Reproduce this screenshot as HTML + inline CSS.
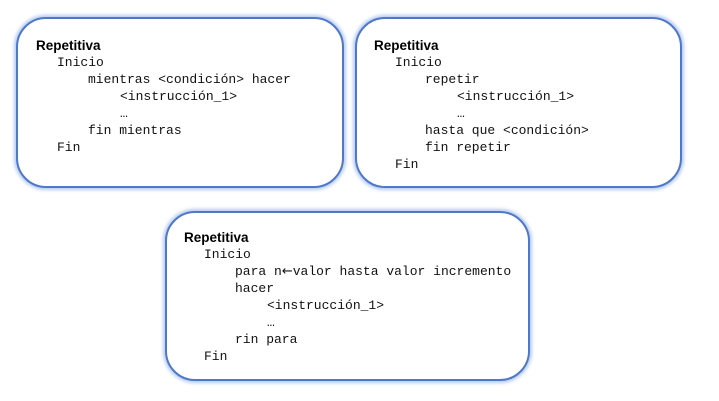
<!DOCTYPE html>
<html><head><meta charset="utf-8">
<style>
html,body{margin:0;padding:0;background:#fff;width:719px;height:401px;overflow:hidden;position:relative}
.box{position:absolute;box-sizing:border-box;border:2px solid #4f78c8;border-radius:30px;background:#fff;
box-shadow:0 0 3px 2px rgba(120,160,230,0.55)}
.t{position:absolute;font-family:"Liberation Mono",monospace;font-size:13px;line-height:17px;color:#111;white-space:pre}
.h{position:absolute;font-family:"Liberation Sans",sans-serif;font-weight:bold;font-size:13.5px;line-height:17px;color:#000}
.ar{font-family:"DejaVu Sans",sans-serif;font-size:13px}
</style></head><body>
<div class="box" style="left:16px;top:17px;width:328px;height:171px"></div>
<div class="box" style="left:355px;top:17px;width:327px;height:171px"></div>
<div class="box" style="left:165px;top:211px;width:365px;height:170px"></div>

<div class="h" style="left:36px;top:37px">Repetitiva</div>
<div class="t" style="left:57px;top:54px">Inicio</div>
<div class="t" style="left:88px;top:71px">mientras &lt;condición&gt; hacer</div>
<div class="t" style="left:120px;top:88px">&lt;instrucción_1&gt;</div>
<div class="t" style="left:120px;top:105px">…</div>
<div class="t" style="left:88px;top:122px">fin mientras</div>
<div class="t" style="left:57px;top:139px">Fin</div>

<div class="h" style="left:374px;top:37px">Repetitiva</div>
<div class="t" style="left:395px;top:54px">Inicio</div>
<div class="t" style="left:425px;top:71px">repetir</div>
<div class="t" style="left:457px;top:88px">&lt;instrucción_1&gt;</div>
<div class="t" style="left:457px;top:105px">…</div>
<div class="t" style="left:425px;top:122px">hasta que &lt;condición&gt;</div>
<div class="t" style="left:425px;top:139px">fin repetir</div>
<div class="t" style="left:395px;top:156px">Fin</div>

<div class="h" style="left:184px;top:229px">Repetitiva</div>
<div class="t" style="left:204px;top:246px">Inicio</div>
<div class="t" style="left:235px;top:263px">para n<span class="ar">←</span>valor hasta valor incremento</div>
<div class="t" style="left:235px;top:280px">hacer</div>
<div class="t" style="left:267px;top:297px">&lt;instrucción_1&gt;</div>
<div class="t" style="left:267px;top:314px">…</div>
<div class="t" style="left:235px;top:331px">rin para</div>
<div class="t" style="left:204px;top:348px">Fin</div>
</body></html>
